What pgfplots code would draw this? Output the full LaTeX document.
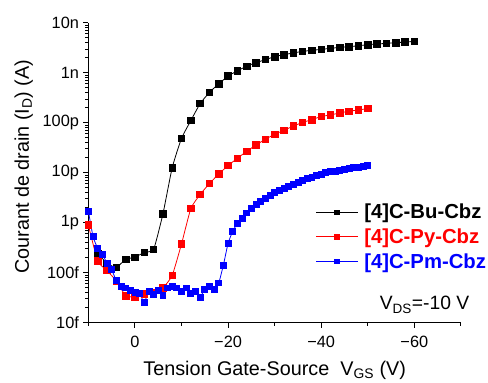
\documentclass[border=0pt]{standalone}
\usepackage{pgfplots}
\pgfplotsset{compat=1.18}
\usepackage{fontspec}
\setmainfont{Liberation Sans}
\begin{document}
\begin{tikzpicture}
\begin{axis}[
 scale only axis, width=375bp, height=302bp,
 x dir=reverse, xmin=-70, xmax=10,
 ymode=log, ymin=1e-14, ymax=1e-8,
 axis x line*=bottom, axis y line*=left,
 axis line style={line width=1.2bp, -},
 xtick={0,-20,-40,-60}, xticklabels={0,−20,−40,−60},
 minor xtick={10,-10,-30,-50,-70},
 ytick={1e-14,1e-13,1e-12,1e-11,1e-10,1e-9,1e-8},
 yticklabels={10f,100f,1p,10p,100p,1n,10n},
 minor ytick={2e-14,3e-14,4e-14,5e-14,6e-14,7e-14,8e-14,9e-14,
  2e-13,3e-13,4e-13,5e-13,6e-13,7e-13,8e-13,9e-13,
  2e-12,3e-12,4e-12,5e-12,6e-12,7e-12,8e-12,9e-12,
  2e-11,3e-11,4e-11,5e-11,6e-11,7e-11,8e-11,9e-11,
  2e-10,3e-10,4e-10,5e-10,6e-10,7e-10,8e-10,9e-10,
  2e-9,3e-9,4e-9,5e-9,6e-9,7e-9,8e-9,9e-9},
 tick align=outside,
 major tick length=5bp, minor tick length=3bp,
 tick style={line width=1bp, black},
 tick label style={font=\fontsize{16.5}{19}\selectfont},
 xticklabel style={yshift=-5bp},
 yticklabel style={xshift=-1bp},
 xlabel={Tension Gate-Source\ \ V\textsubscript{GS} (V)},
 ylabel={Courant de drain (I\textsubscript{D}) (A)},
 label style={font=\fontsize{20}{23}\selectfont},
 xlabel style={at={(axis description cs:0.5,0)}, anchor=base, yshift=-53bp},
 ylabel style={at={(axis description cs:-0.16,0.52)}, anchor=base},
 clip=false,
 legend style={at={(rel axis cs:0.61,0.403)}, anchor=north west, draw=none, fill=none,
   inner sep=0pt, row sep=4.5bp, font=\bfseries\fontsize{20.5}{23}\selectfont,
   nodes={inner sep=2bp}},
 legend cell align=left,
 /tikz/every odd column/.append style={column sep=4bp},
 legend image code/.code={\draw[mark repeat=2,mark phase=2,#1,mark size=2.2bp] plot coordinates {(0bp,0bp) (21bp,0bp) (42bp,0bp)};},
]
\addplot[black, line width=0.8bp, smooth, tension=0.3, mark=square*, mark size=3.3bp, mark options={solid}] coordinates {
(8,2.45e-13) (6,1.56e-13) (4,1.28e-13) (2,1.87e-13) (0,2.05e-13) (-2,2.57e-13) (-4,2.95e-13)
(-6,1.5e-12) (-8,1.27e-11) (-10,4.9e-11) (-12,1.11e-10) (-14,2.43e-10) (-16,4.07e-10)
(-18,6.05e-10) (-20,8.6e-10) (-22,1.10e-9) (-24,1.36e-9) (-26,1.60e-9) (-28,1.84e-9)
(-30,2.11e-9) (-32,2.31e-9) (-34,2.50e-9) (-36,2.69e-9) (-38,2.82e-9) (-40,2.95e-9)
(-42,3.09e-9) (-44,3.24e-9) (-46,3.34e-9) (-48,3.49e-9) (-50,3.66e-9) (-52,3.78e-9)
(-54,3.89e-9) (-56,4.01e-9) (-58,4.13e-9) (-60,4.26e-9)};
\addplot[red, line width=0.8bp, smooth, tension=0.3, mark=square*, mark size=3.3bp, mark options={solid}] coordinates {
(10,9.0e-13) (8,1.73e-13) (6,1.11e-13) (4,6.9e-14) (2,3.5e-14) (0,3.3e-14) (-2,3.8e-14)
(-4,4.1e-14) (-6,5.0e-14) (-8,8.9e-14) (-10,3.8e-13) (-12,1.93e-12) (-14,3.7e-12)
(-16,6.1e-12) (-18,9.5e-12) (-20,1.40e-11) (-22,1.96e-11) (-24,2.7e-11) (-26,3.6e-11)
(-28,4.7e-11) (-30,5.9e-11) (-32,7.1e-11) (-34,8.6e-11) (-36,1.02e-10) (-38,1.16e-10)
(-40,1.34e-10) (-42,1.44e-10) (-44,1.58e-10) (-46,1.71e-10) (-48,1.81e-10) (-50,1.93e-10)};
\addplot[blue, line width=0.8bp, smooth, tension=0.3, mark=square*, mark size=3bp, mark options={solid}] coordinates {
(10,1.72e-12) (9,5.3e-13) (8,3.1e-13) (7,2.35e-13) (6,1.56e-13) (5,1.15e-13) (4,7.0e-14)
(3,5.4e-14) (2,5.0e-14) (1,4.4e-14) (0,4.1e-14) (-1,3.8e-14) (-2,2.6e-14) (-3,4.3e-14)
(-4,3.65e-14) (-5,4.4e-14) (-6,3.5e-14) (-7,5.0e-14) (-8,5.3e-14) (-9,5.0e-14)
(-10,4.3e-14) (-11,5.0e-14) (-12,3.95e-14) (-13,4.3e-14) (-14,3.3e-14) (-15,4.7e-14)
(-16,5.3e-14) (-17,4.7e-14) (-18,6.3e-14) (-19,1.44e-13) (-20,3.9e-13) (-21,6.8e-13)
(-22,9.7e-13) (-23,1.22e-12) (-24,1.58e-12) (-25,1.93e-12) (-26,2.31e-12) (-27,2.69e-12)
(-28,3.14e-12) (-29,3.55e-12) (-30,4.0e-12) (-31,4.45e-12) (-32,4.96e-12) (-33,5.4e-12)
(-34,5.85e-12) (-35,6.5e-12) (-36,7.0e-12) (-37,7.6e-12) (-38,8.2e-12) (-39,8.8e-12)
(-40,9.5e-12) (-41,1.0e-11) (-42,1.047e-11) (-43,1.09e-11) (-44,1.13e-11) (-45,1.175e-11)
(-46,1.22e-11) (-47,1.26e-11) (-48,1.30e-11) (-49,1.35e-11) (-50,1.40e-11)};
\legend{\textcolor{black}{[4]C-Bu-Cbz}, \textcolor{red}{[4]C-Py-Cbz}, \textcolor{blue}{[4]C-Pm-Cbz}}
\node[anchor=base east, font=\fontsize{19.5}{22}\selectfont] at (rel axis cs:1.032,0.043) {V\textsubscript{DS}=-10 V};
\end{axis}
\path (current axis.south west) ++(-89bp,-58bp) coordinate (bbsw);
\useasboundingbox (bbsw) rectangle ++(488bp,383bp);
\end{tikzpicture}
\end{document}
